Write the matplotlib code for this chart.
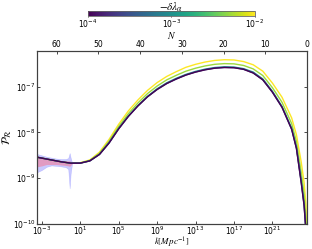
import numpy as np
import matplotlib
matplotlib.use("Agg")
import matplotlib.pyplot as plt
from matplotlib.colors import LogNorm
from matplotlib.cm import ScalarMappable

# ---- data (log10 values) ----
logk = [-3.5, -3, -2, -1, 0, 1, 2, 3, 4, 5, 6, 7, 8, 9, 10, 11, 12, 13, 14, 15,
        16, 17, 18, 19, 20, 21, 22, 23, 23.5, 24, 24.3, 24.5, 24.6]

lambdas = [1e-2, 5e-3, 1e-3, 3.16e-4, 1e-4]

logP_1e2 = [-8.54, -8.56, -8.60, -8.64, -8.67, -8.66, -8.60, -8.43, -8.15, -7.82, -7.53,
            -7.29, -7.08, -6.91, -6.775, -6.67, -6.575, -6.51, -6.46, -6.425, -6.41, -6.415,
            -6.45, -6.52, -6.66, -6.92, -7.23, -7.68, -8.05, -8.65, -9.10, -9.60, -11.0]
logP_5e3 = [-8.54, -8.56, -8.60, -8.64, -8.67, -8.665, -8.61, -8.455, -8.19, -7.87, -7.59,
            -7.355, -7.15, -6.985, -6.85, -6.75, -6.66, -6.595, -6.545, -6.51, -6.495, -6.50,
            -6.535, -6.61, -6.755, -7.02, -7.34, -7.805, -8.20, -8.88, -9.35, -9.90, -11.0]
logP_1e3 = [-8.54, -8.56, -8.60, -8.64, -8.67, -8.67, -8.62, -8.475, -8.22, -7.91, -7.64,
            -7.41, -7.21, -7.045, -6.915, -6.815, -6.73, -6.665, -6.615, -6.58, -6.565, -6.57,
            -6.605, -6.68, -6.83, -7.10, -7.43, -7.905, -8.32, -9.05, -9.55, -10.15, -11.0]
logP_3e4 = [-8.54, -8.56, -8.60, -8.64, -8.67, -8.67, -8.62, -8.48, -8.23, -7.92, -7.65,
            -7.42, -7.22, -7.06, -6.93, -6.83, -6.742, -6.677, -6.627, -6.592, -6.577, -6.582,
            -6.617, -6.697, -6.847, -7.117, -7.447, -7.927, -8.345, -9.09, -9.59, -10.19, -11.0]
logP_1e4 = [-8.54, -8.56, -8.60, -8.64, -8.67, -8.67, -8.62, -8.48, -8.23, -7.92, -7.65,
            -7.42, -7.22, -7.06, -6.93, -6.83, -6.745, -6.68, -6.63, -6.595, -6.58, -6.585,
            -6.62, -6.70, -6.85, -7.12, -7.45, -7.93, -8.35, -9.10, -9.60, -10.20, -11.0]
curves = [logP_1e2, logP_5e3, logP_1e3, logP_3e4, logP_1e4]

# uncertainty bands at large scales
band_logk = [-3.5, -3.0, -2.5, -2.0, -1.5, -1.0, -0.5, -0.25, -0.1, 0.0, 0.15]
blue_lo = [-8.87, -8.82, -8.75, -8.72, -8.73, -8.74, -8.76, -8.80, -9.22, -8.90, -8.68]
blue_hi = [-8.47, -8.50, -8.53, -8.55, -8.57, -8.58, -8.58, -8.56, -8.45, -8.55, -8.66]
red_lo = [-8.75, -8.73, -8.70, -8.70, -8.70, -8.71, -8.72, -8.73, -8.74, -8.72, -8.68]
red_hi = [-8.52, -8.54, -8.56, -8.58, -8.60, -8.61, -8.62, -8.62, -8.62, -8.63, -8.66]

xticks = [1e-3, 1e1, 1e5, 1e9, 1e13, 1e17, 1e21]
yticks = [1e-10, 1e-9, 1e-8, 1e-7]
Nticks = [60, 50, 40, 30, 20, 10, 0]

# ---- figure ----
plt.rcParams['font.size'] = 5.5
plt.rcParams['mathtext.fontset'] = 'dejavusans'
fig = plt.figure(figsize=(3.12, 2.49), dpi=100)
ax = fig.add_axes([0.1186, 0.1004, 0.8654, 0.6946])

norm = LogNorm(vmin=1e-4, vmax=1e-2)
cmap = plt.get_cmap('viridis')

for lam, lp in zip(lambdas, curves):
    ax.plot(10.0 ** np.array(logk), 10.0 ** np.array(lp), color=cmap(norm(lam)), lw=1.0)

bk = 10.0 ** np.array(band_logk)
ax.fill_between(bk, 10.0 ** np.array(blue_lo), 10.0 ** np.array(blue_hi),
                color='#7878ff', alpha=0.4, lw=0.4, edgecolor='#8a8aff')
ax.fill_between(bk, 10.0 ** np.array(red_lo), 10.0 ** np.array(red_hi),
                color='#ff6478', alpha=0.45, lw=0)

xmin_log, xmax_log = -3.5, 24.6
ax.set_xscale('log')
ax.set_yscale('log')
ax.set_xlim(10 ** xmin_log, 10 ** xmax_log)
ax.set_ylim(1e-10, 10 ** -6.22)
ax.set_xticks(xticks)
ax.set_yticks(yticks)
ax.minorticks_off()
ax.tick_params(direction='in', length=2.5, width=0.5, labelsize=5.5, right=True, pad=1.0)
ax.tick_params(axis='x', pad=0.5)
ax.set_xlabel(r'$k[Mpc^{-1}]$', fontsize=6.5, math_fontfamily='stix')
ax.xaxis.set_label_coords(0.5, -0.068)
ax.set_ylabel(r'$\mathcal{P}_\mathcal{R}$', fontsize=8, math_fontfamily='stix')
ax.yaxis.set_label_coords(-0.085, 0.5)
for s in ax.spines.values():
    s.set_linewidth(0.8)
    s.set_color('0.25')

# top N axis
ax2 = ax.twiny()
ax2.set_xlim((xmax_log - xmin_log) * np.log(10), 0)
ax2.set_xticks(Nticks)
ax2.tick_params(direction='in', length=2.5, width=0.5, labelsize=5.5, pad=1.5)
ax2.set_xlabel(r'$N$', fontsize=7, math_fontfamily='stix')
ax2.xaxis.set_label_coords(0.5, 1.072)
for s in ax2.spines.values():
    s.set_linewidth(0.8)
    s.set_color('0.25')

# colorbar
cax = fig.add_axes([0.282, 0.936, 0.535, 0.018])
sm = ScalarMappable(norm=norm, cmap=cmap)
cb = fig.colorbar(sm, cax=cax, orientation='horizontal')
cb.set_ticks([1e-4, 1e-3, 1e-2])
cb.ax.minorticks_off()
cb.ax.tick_params(labelsize=5.5, length=1, width=0.5, pad=0.3)
cb.outline.set_linewidth(0.6)
cb.outline.set_edgecolor('0.4')
cb.set_label(r'$-\delta\lambda_\alpha$', fontsize=8, labelpad=0.5, math_fontfamily='stix')
cb.ax.xaxis.set_label_position('top')

fig.savefig('out.png', dpi=100)
